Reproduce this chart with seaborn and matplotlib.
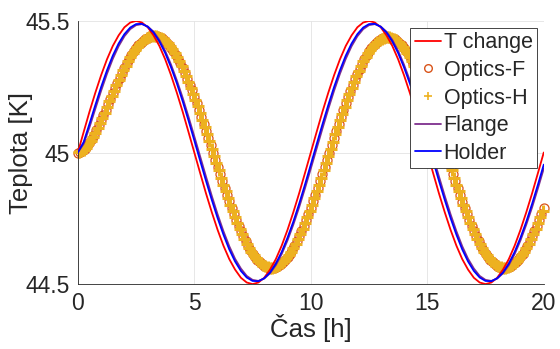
import numpy as np
import matplotlib
matplotlib.use('Agg')
import matplotlib.pyplot as plt
import seaborn as sns

# time axes (h)
time_lines = np.linspace(0, 20, 81)        # 0.25 h step
time_optics_f = np.linspace(0, 20, 201)    # 0.1 h step
time_optics_h = np.linspace(0.05, 19.95, 200)

x_ticks = [0, 5, 10, 15, 20]
y_ticks = [44.5, 45, 45.5]
y_tick_labels = ['44.5', '45', '45.5']

# temperatures (K)
t_change = [45.000, 45.078, 45.155, 45.227, 45.294, 45.354, 45.405, 45.445, 45.476, 45.494,
            45.500, 45.494, 45.476, 45.445, 45.405, 45.354, 45.294, 45.227, 45.155, 45.078,
            45.000, 44.922, 44.845, 44.773, 44.706, 44.646, 44.595, 44.555, 44.524, 44.506,
            44.500, 44.506, 44.524, 44.555, 44.595, 44.646, 44.706, 44.773, 44.845, 44.922,
            45.000, 45.078, 45.155, 45.227, 45.294, 45.354, 45.405, 45.445, 45.476, 45.494,
            45.500, 45.494, 45.476, 45.445, 45.405, 45.354, 45.294, 45.227, 45.155, 45.078,
            45.000, 44.922, 44.845, 44.773, 44.706, 44.646, 44.595, 44.555, 44.524, 44.506,
            44.500, 44.506, 44.524, 44.555, 44.595, 44.646, 44.706, 44.773, 44.845, 44.922,
            45.000]

holder = [45.000, 45.040, 45.109, 45.180, 45.249, 45.312, 45.368, 45.414, 45.450, 45.475,
          45.488, 45.489, 45.478, 45.456, 45.422, 45.378, 45.324, 45.263, 45.195, 45.122,
          45.046, 44.969, 44.893, 44.820, 44.751, 44.688, 44.632, 44.586, 44.550, 44.525,
          44.512, 44.511, 44.522, 44.544, 44.578, 44.622, 44.676, 44.737, 44.805, 44.878,
          44.954, 45.031, 45.107, 45.180, 45.249, 45.312, 45.368, 45.414, 45.450, 45.475,
          45.488, 45.489, 45.478, 45.456, 45.422, 45.378, 45.324, 45.263, 45.195, 45.122,
          45.046, 44.969, 44.893, 44.820, 44.751, 44.688, 44.632, 44.586, 44.550, 44.525,
          44.512, 44.511, 44.522, 44.544, 44.578, 44.622, 44.676, 44.737, 44.805, 44.878,
          44.954]

flange = [45.000, 45.033, 45.096, 45.166, 45.235, 45.299, 45.356, 45.404, 45.442, 45.469,
          45.484, 45.488, 45.479, 45.459, 45.428, 45.386, 45.334, 45.274, 45.208, 45.136,
          45.061, 44.985, 44.909, 44.835, 44.765, 44.701, 44.644, 44.596, 44.559, 44.531,
          44.516, 44.512, 44.521, 44.541, 44.572, 44.614, 44.666, 44.726, 44.792, 44.864,
          44.939, 45.015, 45.091, 45.165, 45.235, 45.299, 45.356, 45.404, 45.442, 45.469,
          45.484, 45.488, 45.479, 45.459, 45.428, 45.386, 45.334, 45.274, 45.208, 45.136,
          45.061, 44.985, 44.909, 44.835, 44.765, 44.701, 44.644, 44.596, 44.559, 44.531,
          44.516, 44.512, 44.521, 44.541, 44.572, 44.614, 44.666, 44.726, 44.792, 44.864,
          44.939]

optics_f = [45.000, 45.002, 45.007, 45.014, 45.025, 45.037, 45.051, 45.067, 45.085, 45.103,
            45.122, 45.142, 45.163, 45.183, 45.204, 45.225, 45.245, 45.265, 45.285, 45.303,
            45.321, 45.339, 45.355, 45.370, 45.384, 45.396, 45.407, 45.417, 45.425, 45.432,
            45.437, 45.441, 45.443, 45.443, 45.442, 45.439, 45.434, 45.427, 45.419, 45.410,
            45.399, 45.386, 45.372, 45.356, 45.339, 45.321, 45.301, 45.280, 45.258, 45.236,
            45.212, 45.187, 45.162, 45.136, 45.110, 45.083, 45.055, 45.028, 45.000, 44.973,
            44.945, 44.918, 44.891, 44.865, 44.839, 44.814, 44.789, 44.765, 44.743, 44.721,
            44.700, 44.681, 44.662, 44.646, 44.630, 44.616, 44.604, 44.593, 44.583, 44.576,
            44.570, 44.565, 44.563, 44.562, 44.563, 44.565, 44.570, 44.576, 44.583, 44.593,
            44.604, 44.616, 44.630, 44.646, 44.662, 44.681, 44.700, 44.721, 44.743, 44.765,
            44.789, 44.814, 44.839, 44.865, 44.891, 44.918, 44.945, 44.973, 45.000, 45.027,
            45.055, 45.082, 45.109, 45.135, 45.161, 45.187, 45.211, 45.235, 45.258, 45.279,
            45.300, 45.319, 45.338, 45.354, 45.370, 45.384, 45.396, 45.407, 45.417, 45.424,
            45.430, 45.435, 45.437, 45.438, 45.437, 45.435, 45.430, 45.424, 45.417, 45.407,
            45.396, 45.384, 45.370, 45.354, 45.338, 45.319, 45.300, 45.279, 45.258, 45.235,
            45.211, 45.187, 45.161, 45.135, 45.109, 45.082, 45.055, 45.027, 45.000, 44.973,
            44.945, 44.918, 44.891, 44.865, 44.839, 44.813, 44.789, 44.765, 44.742, 44.721,
            44.700, 44.681, 44.662, 44.646, 44.630, 44.616, 44.604, 44.593, 44.583, 44.576,
            44.570, 44.565, 44.563, 44.562, 44.563, 44.565, 44.570, 44.576, 44.583, 44.593,
            44.604, 44.616, 44.630, 44.646, 44.662, 44.681, 44.700, 44.721, 44.743, 44.765,
            44.789]

optics_h = [45.001, 45.004, 45.010, 45.019, 45.031, 45.044, 45.059, 45.076, 45.094, 45.113,
            45.132, 45.152, 45.173, 45.194, 45.214, 45.235, 45.255, 45.275, 45.294, 45.312,
            45.330, 45.347, 45.362, 45.377, 45.390, 45.402, 45.412, 45.421, 45.429, 45.435,
            45.439, 45.442, 45.443, 45.442, 45.440, 45.436, 45.431, 45.424, 45.415, 45.404,
            45.392, 45.379, 45.364, 45.348, 45.330, 45.311, 45.291, 45.269, 45.247, 45.224,
            45.200, 45.175, 45.149, 45.123, 45.096, 45.069, 45.042, 45.014, 44.987, 44.959,
            44.932, 44.904, 44.878, 44.852, 44.826, 44.801, 44.777, 44.754, 44.732, 44.710,
            44.690, 44.671, 44.654, 44.638, 44.623, 44.610, 44.598, 44.588, 44.579, 44.572,
            44.567, 44.564, 44.562, 44.562, 44.564, 44.567, 44.572, 44.579, 44.588, 44.598,
            44.610, 44.623, 44.638, 44.654, 44.671, 44.690, 44.710, 44.732, 44.754, 44.777,
            44.801, 44.826, 44.852, 44.878, 44.904, 44.932, 44.959, 44.986, 45.014, 45.041,
            45.069, 45.096, 45.122, 45.148, 45.174, 45.199, 45.223, 45.246, 45.269, 45.290,
            45.310, 45.329, 45.346, 45.362, 45.377, 45.390, 45.402, 45.412, 45.421, 45.428,
            45.433, 45.436, 45.438, 45.438, 45.436, 45.433, 45.428, 45.421, 45.412, 45.402,
            45.390, 45.377, 45.362, 45.346, 45.329, 45.310, 45.290, 45.269, 45.246, 45.223,
            45.199, 45.174, 45.148, 45.122, 45.096, 45.069, 45.041, 45.014, 44.986, 44.959,
            44.932, 44.904, 44.878, 44.852, 44.826, 44.801, 44.777, 44.754, 44.732, 44.710,
            44.690, 44.671, 44.654, 44.638, 44.623, 44.610, 44.598, 44.588, 44.579, 44.572,
            44.567, 44.564, 44.562, 44.562, 44.564, 44.567, 44.572, 44.579, 44.588, 44.598,
            44.610, 44.623, 44.638, 44.654, 44.671, 44.690, 44.710, 44.732, 44.754, 44.777]

sns.set_theme(style='white')
plt.rcParams['font.family'] = ['Liberation Sans', 'DejaVu Sans']
text_col = '#262626'

fig, ax = plt.subplots(figsize=(5.6, 3.49), dpi=100)
fig.subplots_adjust(left=0.139, right=0.971, bottom=0.186, top=0.940)

# optics markers first, lines drawn over them
sns.lineplot(x=time_optics_f, y=optics_f, ax=ax, label='Optics-F', errorbar=None,
             linestyle='none', marker='o', markersize=6.5, markerfacecolor='none',
             markeredgecolor='#D95319', markeredgewidth=0.9, color='#D95319',
             zorder=2, clip_on=False)
sns.lineplot(x=time_optics_h, y=optics_h, ax=ax, label='Optics-H', errorbar=None,
             linestyle='none', marker='+', markersize=8,
             markeredgecolor='#EDB120', markeredgewidth=2.2, color='#EDB120',
             zorder=2.1, clip_on=False)
sns.lineplot(x=time_lines, y=t_change, ax=ax, label='T change', errorbar=None,
             color='#FF0000', linewidth=1.3, zorder=3)
sns.lineplot(x=time_lines, y=flange, ax=ax, label='Flange', errorbar=None,
             color='#7E2F8E', linewidth=1.3, zorder=3.1)
sns.lineplot(x=time_lines, y=holder, ax=ax, label='Holder', errorbar=None,
             color='#0000FF', linewidth=1.3, zorder=3.2)

ax.set_xlim(0, 20)
ax.set_ylim(44.5, 45.5)
ax.set_xticks(x_ticks)
ax.set_xticklabels([str(v) for v in x_ticks])
ax.set_yticks(y_ticks)
ax.set_yticklabels(y_tick_labels)
ax.grid(True, color='#E3E3E3', linewidth=0.6)
ax.set_axisbelow(True)
for side in ['top', 'right']:
    ax.spines[side].set_visible(False)
for side in ['left', 'bottom']:
    ax.spines[side].set_color(text_col)
    ax.spines[side].set_linewidth(0.6)
ax.tick_params(direction='in', length=3, width=0.6, colors=text_col, labelsize=16.5, pad=6)
ax.set_xlabel('Čas [h]', fontsize=18.5, color=text_col, labelpad=-1)
ax.set_ylabel('Teplota [K]', fontsize=18.5, color=text_col)
ax.yaxis.set_label_coords(-0.097, 0.5)

handles, labels = ax.get_legend_handles_labels()
order = ['T change', 'Optics-F', 'Optics-H', 'Flange', 'Holder']
hmap = dict(zip(labels, handles))
leg = ax.legend([hmap[k] for k in order], order, loc='upper right',
                bbox_to_anchor=(0.959, 0.920), bbox_transform=fig.transFigure,
                borderaxespad=0, fontsize=15.5, handlelength=1.2, handletextpad=0.15,
                labelspacing=0.31, borderpad=0.2, frameon=True, fancybox=False,
                edgecolor='#262626', framealpha=1)
leg.get_frame().set_linewidth(0.6)
leg.set_zorder(10)
# thinner marker symbols in the legend, as in the original
leg.legend_handles[1].set_markersize(5.5)
leg.legend_handles[1].set_markeredgewidth(1.0)
leg.legend_handles[2].set_markersize(6)
leg.legend_handles[2].set_markeredgewidth(1.2)

fig.savefig('out.png', dpi=100)
